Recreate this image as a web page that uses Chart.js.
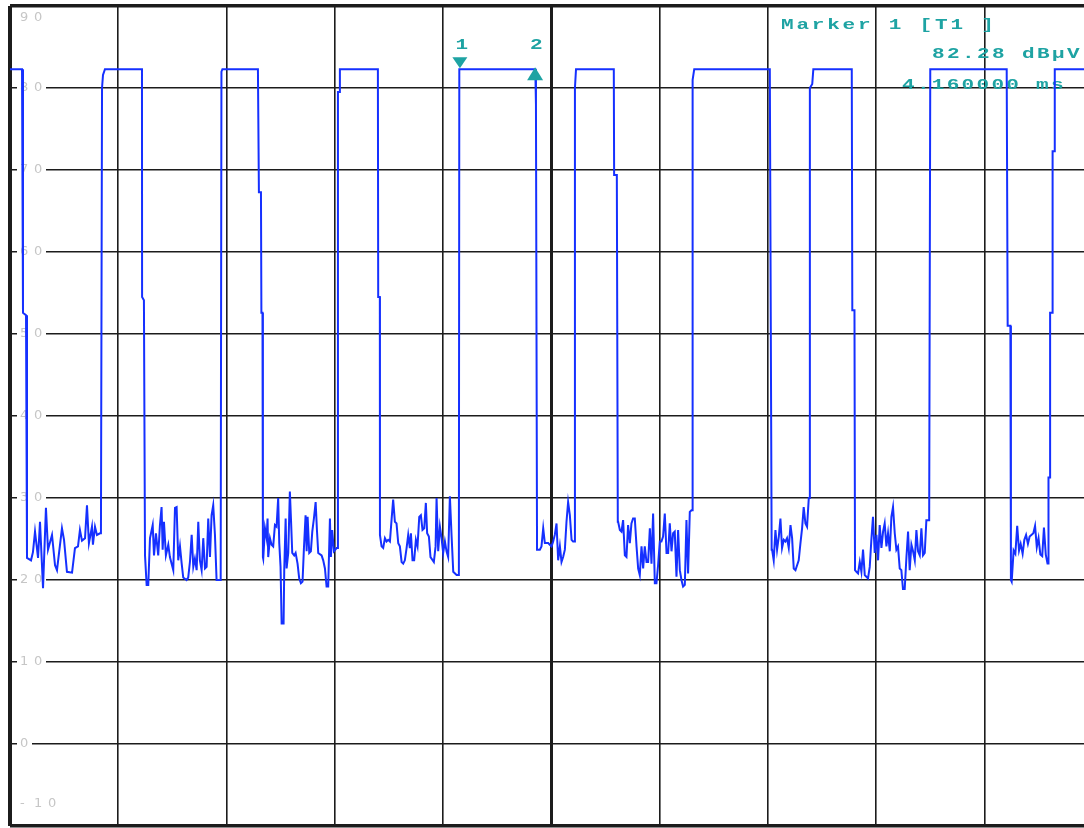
<!DOCTYPE html>
<html>
<head>
<meta charset="utf-8">
<script src="https://cdn.jsdelivr.net/npm/chart.js@4"></script>
<style>
  html, body { margin: 0; padding: 0; background: #fff; }
  canvas { display: block; }
</style>
</head>
<body>
<canvas id="sweepChart" width="1084" height="828"></canvas>
<script>
// Level axis (dBµV) and time axis (ms, 1 ms per division)
const levelTicks = [90, 80, 70, 60, 50, 40, 30, 20, 10, 0, -10];
const timeMax = 9.92; // visible part of the 10 ms sweep

// Trace vertices [time ms, level dBµV]
const sweepPart1 = [[0,82.3],[0.111,82.3],[0.120,52.6],[0.148,52.3],[0.157,22.7],[0.194,22.4],[0.212,23.4],[0.231,25.9],[0.259,22.7],[0.277,27.1],[0.305,19.0],[0.332,28.8],[0.351,23.7],[0.388,25.5],[0.416,21.8],[0.434,21.2],[0.480,26.3],[0.499,24.9],[0.526,21.0],[0.573,20.9],[0.600,23.9],[0.628,24.1],[0.646,26.1],[0.665,24.8],[0.693,25.1],[0.711,29.1],[0.729,24.5],[0.757,26.5],[0.766,24.3],[0.785,26.5],[0.803,25.5],[0.831,25.7],[0.840,25.7],[0.850,80.0],[0.859,81.6],[0.877,82.3],[1.219,82.3]];
const sweepPart2 = [[1.220,54.5],[1.237,54.1],[1.247,23.0],[1.262,19.4],[1.277,19.4],[1.293,25.1],[1.318,26.7],[1.330,23.0],[1.348,25.7],[1.369,23.0],[1.385,26.7],[1.400,28.9],[1.410,23.7],[1.422,27.1],[1.440,23.0],[1.462,24.3],[1.477,22.8],[1.508,21.2],[1.524,28.8],[1.539,28.9],[1.554,22.4],[1.570,24.1],[1.585,22.1],[1.600,20.3],[1.631,20.0],[1.646,20.3],[1.662,22.2],[1.678,25.5],[1.693,21.6],[1.708,22.6],[1.724,21.2],[1.739,27.1],[1.754,22.4],[1.770,21.2],[1.785,25.1],[1.801,21.4],[1.816,21.6],[1.831,27.5],[1.847,22.8],[1.862,27.9],[1.877,29.1],[1.893,25.5],[1.908,20.0],[1.933,20.0],[1.946,20.0],[1.953,82.0],[1.962,82.3],[2.290,82.3]];
const sweepPart3 = [[2.299,67.3],[2.318,67.3],[2.322,52.6],[2.332,52.6],[2.336,22.8],[2.339,22.6],[2.355,26.3],[2.370,25.1],[2.379,27.5],[2.385,22.8],[2.401,25.1],[2.416,24.3],[2.431,24.1],[2.447,26.7],[2.462,26.5],[2.477,30.0],[2.487,24.5],[2.499,21.6],[2.509,14.7],[2.527,14.7],[2.533,21.2],[2.546,27.5],[2.555,21.4],[2.570,23.3],[2.585,30.8],[2.595,27.5],[2.607,23.3],[2.625,23.0],[2.638,23.3],[2.656,22.0],[2.671,20.2],[2.687,19.6],[2.702,19.8],[2.715,23.9],[2.730,27.9],[2.740,23.5],[2.749,27.7],[2.764,23.3],[2.779,23.5],[2.792,25.9],[2.807,27.5],[2.823,29.5],[2.835,26.1],[2.847,23.3],[2.878,23.0],[2.893,22.4],[2.909,21.4],[2.924,19.2],[2.939,19.2],[2.955,27.5],[2.964,22.8],[2.976,26.1],[2.992,23.5],[3.017,23.9],[3.026,23.9],[3.029,79.5],[3.042,79.5],[3.047,82.3],[3.398,82.3]];
const sweepPart4 = [[3.401,54.5],[3.416,54.5],[3.417,25.5],[3.432,24.1],[3.447,23.9],[3.463,25.1],[3.478,24.7],[3.493,24.9],[3.509,24.7],[3.524,27.3],[3.539,29.8],[3.555,27.1],[3.570,26.9],[3.586,24.5],[3.601,24.1],[3.617,22.2],[3.632,22.0],[3.647,22.4],[3.663,23.9],[3.678,25.5],[3.693,23.9],[3.703,25.7],[3.718,22.4],[3.733,22.4],[3.749,24.9],[3.764,24.1],[3.780,27.7],[3.795,27.9],[3.810,26.1],[3.826,26.3],[3.841,29.4],[3.853,25.7],[3.869,25.3],[3.884,22.8],[3.915,22.2],[3.931,24.1],[3.940,30.0],[3.955,23.5],[3.971,26.5],[3.986,25.1],[4.001,23.3],[4.017,24.7],[4.032,23.5],[4.047,22.8],[4.063,30.2],[4.079,25.3],[4.094,21.0],[4.125,20.6],[4.134,20.6],[4.146,20.6],[4.150,82.3],[4.848,82.3]];
const sweepPart5 = [[4.852,82.3],[4.858,78.0],[4.868,23.7],[4.878,23.7],[4.894,23.7],[4.909,24.1],[4.925,26.3],[4.940,24.5],[4.971,24.5],[4.986,24.3],[5.002,24.1],[5.017,24.7],[5.032,25.5],[5.048,26.9],[5.063,22.4],[5.079,24.1],[5.094,22.2],[5.109,22.8],[5.125,23.7],[5.140,27.1],[5.155,29.5],[5.171,27.9],[5.187,24.9],[5.201,24.7],[5.210,24.7],[5.218,80.0],[5.228,82.3],[5.577,82.3]];
const sweepPart6 = [[5.580,69.4],[5.605,69.4],[5.614,27.1],[5.617,27.1],[5.633,26.1],[5.648,25.9],[5.663,27.3],[5.679,23.0],[5.694,22.8],[5.709,26.7],[5.725,24.5],[5.740,26.9],[5.755,27.5],[5.771,27.5],[5.787,24.1],[5.802,21.4],[5.817,20.6],[5.833,24.1],[5.848,21.4],[5.863,24.1],[5.879,22.2],[5.894,22.2],[5.910,26.3],[5.925,22.0],[5.940,28.1],[5.956,19.6],[5.971,19.6],[5.986,21.8],[6.002,24.7],[6.017,24.7],[6.032,25.3],[6.048,28.1],[6.064,23.3],[6.079,23.3],[6.094,26.9],[6.110,23.5],[6.125,25.7],[6.140,25.9],[6.156,20.4],[6.171,26.1],[6.187,21.2],[6.202,20.0],[6.217,19.2],[6.233,19.4],[6.248,27.3],[6.263,20.8],[6.279,28.3],[6.294,28.5],[6.303,28.5],[6.305,81.0],[6.320,82.3],[7.018,82.3]];
const sweepPart7 = [[7.035,23.7],[7.039,23.7],[7.054,22.4],[7.070,26.1],[7.085,23.7],[7.101,25.3],[7.116,27.5],[7.131,23.9],[7.147,24.9],[7.162,24.7],[7.177,25.1],[7.193,23.9],[7.209,26.7],[7.224,25.1],[7.239,21.4],[7.255,21.2],[7.270,21.8],[7.285,22.4],[7.301,24.5],[7.316,26.3],[7.331,28.9],[7.347,26.9],[7.362,26.5],[7.378,30.0],[7.385,30.0],[7.388,80.0],[7.410,80.5],[7.420,82.3],[7.775,82.3]];
const sweepPart8 = [[7.780,52.9],[7.800,52.9],[7.805,21.2],[7.818,21.0],[7.833,20.8],[7.849,22.2],[7.864,21.0],[7.879,23.7],[7.895,20.6],[7.910,20.4],[7.925,20.2],[7.941,21.6],[7.956,24.9],[7.971,27.7],[7.987,23.3],[8.003,25.5],[8.018,22.4],[8.033,26.7],[8.049,23.9],[8.064,25.9],[8.079,26.9],[8.095,24.1],[8.110,25.7],[8.126,23.5],[8.141,27.7],[8.156,28.9],[8.172,25.7],[8.187,23.7],[8.202,24.1],[8.218,21.4],[8.233,21.2],[8.248,18.9],[8.264,18.9],[8.280,22.8],[8.295,25.9],[8.310,21.2],[8.326,24.3],[8.341,23.5],[8.357,22.4],[8.372,26.1],[8.387,23.5],[8.403,23.0],[8.418,26.3],[8.433,23.0],[8.449,23.3],[8.464,27.3],[8.480,27.3],[8.490,27.3],[8.500,82.3],[9.206,82.3]];
const sweepPart9 = [[9.215,51.0],[9.240,51.0],[9.245,20.0],[9.252,19.8],[9.270,23.6],[9.286,23.2],[9.303,26.6],[9.320,23.6],[9.335,24.4],[9.353,23.2],[9.369,24.9],[9.385,25.5],[9.402,24.4],[9.418,25.3],[9.452,25.7],[9.468,26.6],[9.484,24.0],[9.500,25.1],[9.517,23.1],[9.534,22.9],[9.550,26.4],[9.567,23.1],[9.583,22.0],[9.592,22.0],[9.592,32.5],[9.607,32.5],[9.607,52.6],[9.630,52.6],[9.630,72.3],[9.645,72.3],[9.650,82.3],[9.920,82.3]];

// Markers
const markerNames = ["1", "2"];
const markerTimes = [4.16, 4.85];
const markerLevels = [82.28, 82.28];

const trace = [].concat(sweepPart1, sweepPart2, sweepPart3, sweepPart4, sweepPart5,
    sweepPart6, sweepPart7, sweepPart8, sweepPart9);

const TEAL = "#1ea3a3";
const GRID = "#1c1c1c";

// draw a string one character at a time with a fixed pitch, stretched like the analyzer font
function pitchText(ctx, str, x, y, pitch, stretch) {
    for (let i = 0; i < str.length; i++) {
        ctx.save();
        ctx.translate(x + i * pitch, y);
        ctx.scale(stretch, 1);
        ctx.fillText(str[i], 0, 0);
        ctx.restore();
    }
}

const screenText = {
    id: "screenText",
    beforeDatasetsDraw(chart) {
        const { ctx, chartArea, scales } = chart;
        const y = scales.y;
        ctx.save();

        // level labels sitting on the grid lines
        ctx.font = '13px "DejaVu Sans"';
        ctx.textBaseline = "middle";
        ctx.textAlign = "left";
        levelTicks.forEach((v, i) => {
            const label = String(v);
            const x0 = chartArea.left + 10;
            let py = y.getPixelForValue(v);
            if (i === 0) {
                py = chartArea.top + 12;
            } else if (i === levelTicks.length - 1) {
                py = chartArea.bottom - 22;
            } else {
                ctx.fillStyle = "#fff";
                ctx.fillRect(x0 - 3, py - 3, label.length * 14 + 1, 6);
            }
            ctx.fillStyle = "#c6c6c6";
            pitchText(ctx, label, x0, py, 14, 1);
        });

        // marker readout
        ctx.fillStyle = TEAL;
        ctx.font = 'bold 15px "Liberation Mono"';
        ctx.textBaseline = "alphabetic";
        pitchText(ctx, "Marker " + markerNames[0] + " [T1 ]", 781, 29, 15.4, 1.4);
        pitchText(ctx, markerLevels[0].toFixed(2) + " dBµV", 932, 58, 15, 1.4);
        pitchText(ctx, markerTimes[0].toFixed(6) + " ms", 902, 89, 14.9, 1.4);
        ctx.restore();
    },
    afterDatasetsDraw(chart) {
        const { ctx, scales } = chart;
        ctx.save();
        ctx.fillStyle = TEAL;
        ctx.font = 'bold 15px "Liberation Mono"';
        ctx.textBaseline = "alphabetic";
        markerTimes.forEach((t, i) => {
            const px = scales.x.getPixelForValue(t);
            const py = scales.y.getPixelForValue(markerLevels[i]);
            ctx.beginPath();
            if (i === 0) {
                // delta-down marker above the trace
                ctx.moveTo(px - 8, py - 12);
                ctx.lineTo(px + 7, py - 12);
                ctx.lineTo(px - 0.5, py - 1);
            } else {
                // reference marker below the trace
                ctx.moveTo(px - 8, py + 11);
                ctx.lineTo(px + 8, py + 11);
                ctx.lineTo(px, py - 2);
            }
            ctx.closePath();
            ctx.fill();
            pitchText(ctx, markerNames[i], px - 5, py - 20, 10, 1.4);
        });
        ctx.restore();
    }
};

const ctx = document.getElementById("sweepChart").getContext("2d");
new Chart(ctx, {
    type: "line",
    data: {
        datasets: [{
            data: trace,
            borderColor: "#1530ff",
            borderWidth: 2,
            pointRadius: 0,
            tension: 0,
            fill: false
        }]
    },
    options: {
        responsive: false,
        animation: false,
        layout: { padding: { left: 10, top: 6, right: 0, bottom: 2 } },
        plugins: {
            legend: { display: false },
            tooltip: { enabled: false }
        },
        scales: {
            x: {
                type: "linear",
                min: 0,
                max: timeMax,
                ticks: { display: false, stepSize: 1, includeBounds: false },
                grid: {
                    color: GRID,
                    drawTicks: false,
                    lineWidth: (c) => c.tick.value === 0 ? 4 : (c.tick.value === 5 ? 3 : 1.6)
                },
                border: { display: false }
            },
            y: {
                min: levelTicks[levelTicks.length - 1],
                max: levelTicks[0],
                ticks: { display: false, stepSize: 10 },
                grid: {
                    color: GRID,
                    drawTicks: false,
                    lineWidth: (c) => (c.tick.value === 90 || c.tick.value === -10) ? 3.5 : 1.6
                },
                border: { display: false }
            }
        }
    },
    plugins: [screenText]
});
</script>
</body>
</html>
